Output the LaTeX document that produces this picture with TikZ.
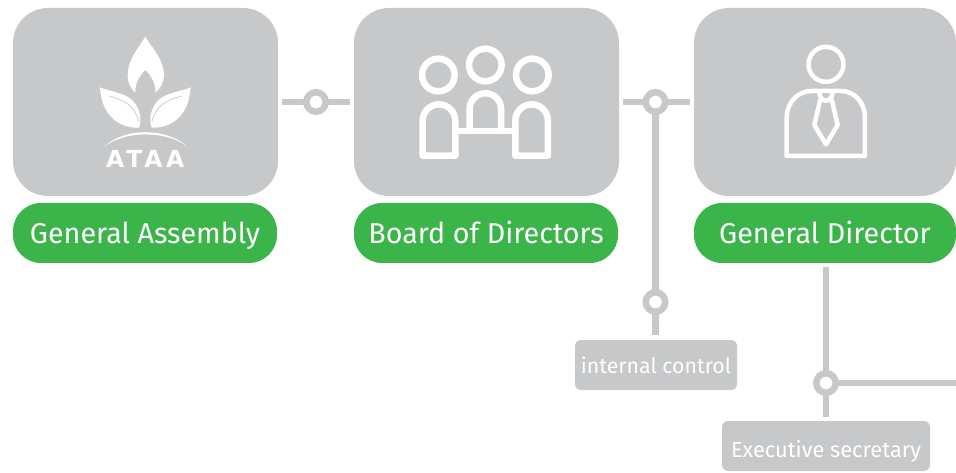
\documentclass[tikz,border=0pt]{standalone}
\usepackage{fontspec}
\setmainfont{Fira Sans}
\newfontfamily\logofont[LetterSpace=16]{DejaVu Sans}
\definecolor{grayc}{HTML}{C7C8CA}
\definecolor{greenc}{HTML}{3BB54A}
\tikzset{
  x=1pt,y=-1pt,
  bigbox/.style={fill=grayc,rounded corners=35pt,minimum width=265pt,minimum height=188pt,inner sep=0,outer sep=0,anchor=north west},
  pill/.style={fill=greenc,rounded corners=28pt,minimum width=264pt,minimum height=60pt,inner sep=0,outer sep=0,anchor=north west,text=white,text height=21pt,text depth=0pt,font=\fontsize{28.7}{32}\selectfont},
  smallbox/.style={fill=grayc,rounded corners=6pt,minimum height=50pt,inner sep=0,outer sep=0,anchor=north west,text=white,text depth=0pt,font=\fontsize{21.8}{25}\selectfont},
  junction/.style={circle,draw=grayc,fill=white,line width=6.5pt,minimum size=19.5pt,inner sep=0,outer sep=0},
  link/.style={draw=grayc,line width=6.5pt},
  iconline/.style={draw=white,line join=round,line cap=round},
}
\begin{document}
\begin{tikzpicture}
\useasboundingbox (0,0) rectangle (956,473);
\node[bigbox] (b1) at (13,8) {};
\node[bigbox] (b2) at (354,8) {};
\node[bigbox,minimum width=262pt] (b3) at (694,8) {};
\node[pill] (p1) at (13,203) {General Assembly};
\node[pill] (p2) at (354,203) {Board of Directors};
\node[pill,minimum width=262pt] (p3) at (694,203) {General Director};
\node[smallbox,minimum width=162pt,text height=17pt,font=\fontsize{21.3}{25}\selectfont] (ic) at (575,340) {internal control};
\node[smallbox,minimum width=208pt,text height=22pt] (es) at (722,421) {Executive secretary};
\node[junction] (j1) at (316,102) {};
\node[junction] (j2) at (655.5,102) {};
\node[junction] (j3) at (655.5,302) {};
\node[junction] (j4) at (826,383) {};
\coordinate (free) at (956,383);
\draw[link,shorten <=4pt] (b1.east |- j1) -- (j1.west);
\draw[link,shorten >=4pt] (j1.east) -- (b2.west |- j1);
\draw[link,shorten <=4pt] (b2.east |- j2) -- (j2.west);
\draw[link,shorten >=4pt] (j2.east) -- (b3.west |- j2);
\draw[link] (j2.south) -- (j3.north);
\draw[link,shorten >=5pt] (j3.south) -- (ic.north -| j3);
\draw[link,shorten <=4pt] (p3.south -| j4) -- (j4.north);
\draw[link,shorten >=4pt] (j4.south) -- (es.north -| j4);
\draw[link] (j4.east) -- (free);
% logo
\begin{scope}[shift={(60pt,-20pt)},x=0.3333pt,y=-0.3333pt]
\fill[white] (256,50) .. controls (235,85) and (203,120) .. (203,165) .. controls (203,190) and (214,208) .. (226,218) .. controls (224,190) and (240,165) .. (256,150) .. controls (272,165) and (288,190) .. (286,218) .. controls (298,208) and (312,190) .. (312,165) .. controls (312,120) and (277,85) .. (256,50) -- cycle;
\foreach \s/\o in {1/0,-1/512}{
\begin{scope}[xshift={\o*0.3333pt},x={\s*0.3333pt}]
\fill[white] (120,202) .. controls (165,222) and (225,215) .. (240,285) .. controls (243,300) and (240,315) .. (237,323) .. controls (180,325) and (125,290) .. (120,202) -- cycle;
\draw[grayc,line width=0.7pt] (148,228) .. controls (190,240) and (225,255) .. (236,305);
\end{scope}}
\fill[white] (132,381) .. controls (190,322) and (320,322) .. (382,380) .. controls (320,330) and (190,332) .. (132,381) -- cycle;
\node[text=white,font=\fontsize{23.5}{24}\selectfont\logofont\bfseries,inner sep=0] (logo) at (256,418) {ATAA};
\end{scope}
% board icon
\begin{scope}[shift={(400pt,-30pt)},x=0.3333pt,y=-0.3333pt,iconline,line width=6.5pt]
\draw (115,135) circle[radius=16.3pt];
\draw (256,105) circle[radius=16.3pt];
\draw (397,135) circle[radius=16.3pt];
\draw (68,377) -- (68,272) arc[start angle=180,end angle=0,radius=16.3pt] -- (166,377) -- cycle;
\draw (346,377) -- (346,272) arc[start angle=180,end angle=0,radius=16.3pt] -- (444,377) -- cycle;
\draw (209,303) -- (209,237) arc[start angle=180,end angle=0,radius=15.7pt] -- (303,303);
\draw (166,303) -- (346,303);
\end{scope}
% person icon
\begin{scope}[shift={(770pt,-30pt)},x=0.3333pt,y=-0.3333pt,iconline,line width=4.5pt]
\draw (168,103) circle[radius=17.5pt];
\draw (50,378) -- (50,265) .. controls (50,215) and (85,183) .. (125,183) -- (212,183) .. controls (252,183) and (285,215) .. (285,265) -- (285,378) -- cycle;
\draw (148,186) .. controls (148,205) and (160,212) .. (168,212) .. controls (176,212) and (188,205) .. (188,186);
\draw (150,212) -- (133,285) -- (168,343) -- (203,285) -- (186,212);
\end{scope}
\end{tikzpicture}
\end{document}
